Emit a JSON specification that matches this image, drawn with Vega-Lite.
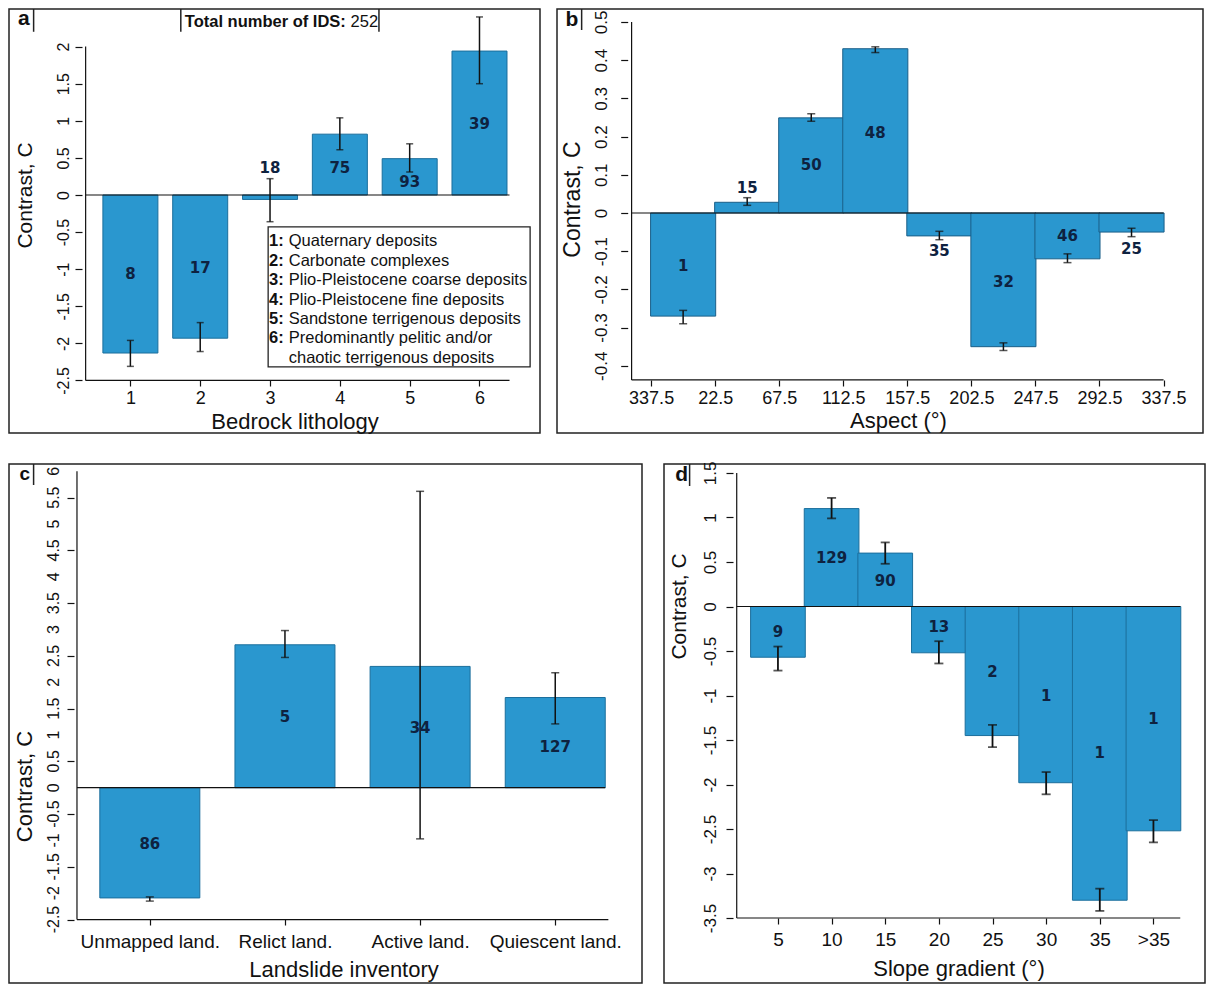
{
  "$schema": "https://vega.github.io/schema/vega-lite/v6.json",
  "background": "white",
  "padding": {"left": 8, "top": 7, "right": 0, "bottom": 0},
  "autosize": {"type": "pad"},
  "datasets": {
    "litho": [
      {"cls": 1, "c": -2.13, "lo": -2.31, "hi": -1.96, "n": 8, "ly": -1.07},
      {"cls": 2, "c": -1.93, "lo": -2.11, "hi": -1.72, "n": 17, "ly": -0.98},
      {"cls": 3, "c": -0.06, "lo": -0.36, "hi": 0.22, "n": 18, "ly": 0.36},
      {"cls": 4, "c": 0.82, "lo": 0.61, "hi": 1.04, "n": 75, "ly": 0.37},
      {"cls": 5, "c": 0.49, "lo": 0.31, "hi": 0.69, "n": 93, "ly": 0.17},
      {"cls": 6, "c": 1.94, "lo": 1.5, "hi": 2.4, "n": 39, "ly": 0.96}
    ],
    "aspect": [
      {"asp": 0, "c": -0.27, "lo": -0.29, "hi": -0.255, "n": 1, "ly": -0.14},
      {"asp": 45, "c": 0.028, "lo": 0.02, "hi": 0.04, "n": 15, "ly": 0.065},
      {"asp": 90, "c": 0.249, "lo": 0.24, "hi": 0.26, "n": 50, "ly": 0.125},
      {"asp": 135, "c": 0.43, "lo": 0.42, "hi": 0.435, "n": 48, "ly": 0.21},
      {"asp": 180, "c": -0.06, "lo": -0.07, "hi": -0.048, "n": 35, "ly": -0.1},
      {"asp": 225, "c": -0.35, "lo": -0.36, "hi": -0.34, "n": 32, "ly": -0.18},
      {"asp": 270, "c": -0.12, "lo": -0.13, "hi": -0.107, "n": 46, "ly": -0.06},
      {"asp": 315, "c": -0.05, "lo": -0.062, "hi": -0.04, "n": 25, "ly": -0.093}
    ],
    "inventory": [
      {"k": 1, "inv": "Unmapped land.", "c": -2.09, "lo": -2.15, "hi": -2.07, "n": 86, "ly": -1.06},
      {"k": 2, "inv": "Relict land.", "c": 2.71, "lo": 2.47, "hi": 2.98, "n": 5, "ly": 1.35},
      {"k": 3, "inv": "Active land.", "c": 2.3, "lo": -0.97, "hi": 5.62, "n": 34, "ly": 1.14},
      {"k": 4, "inv": "Quiescent land.", "c": 1.71, "lo": 1.21, "hi": 2.18, "n": 127, "ly": 0.78}
    ],
    "invTicks": [
      {"t": -2.5, "lab": "-2.5"}, {"t": -2, "lab": "-2"}, {"t": -1.5, "lab": "-1.5"}, {"t": -1, "lab": "-1"},
      {"t": -0.5, "lab": "-0.5"}, {"t": 0, "lab": "0"}, {"t": 0.5, "lab": "0.5"}, {"t": 1, "lab": "1"},
      {"t": 1.5, "lab": "1.5"}, {"t": 2, "lab": "2"}, {"t": 2.5, "lab": "2.5"}, {"t": 3, "lab": "3"},
      {"t": 3.5, "lab": "3.5"}, {"t": 4, "lab": "4"}, {"t": 4.5, "lab": "4.5"}, {"t": 5, "lab": "5"},
      {"t": 5.5, "lab": "5.5"}, {"t": 6, "lab": "6"}
    ],
    "slope": [
      {"s": 5, "c": -0.57, "lo": -0.72, "hi": -0.45, "n": 9, "ly": -0.29},
      {"s": 10, "c": 1.1, "lo": 0.99, "hi": 1.22, "n": 129, "ly": 0.54},
      {"s": 15, "c": 0.6, "lo": 0.48, "hi": 0.72, "n": 90, "ly": 0.29},
      {"s": 20, "c": -0.52, "lo": -0.64, "hi": -0.39, "n": 13, "ly": -0.23},
      {"s": 25, "c": -1.45, "lo": -1.58, "hi": -1.33, "n": 2, "ly": -0.74},
      {"s": 30, "c": -1.98, "lo": -2.11, "hi": -1.86, "n": 1, "ly": -1.0},
      {"s": 35, "c": -3.3, "lo": -3.42, "hi": -3.17, "n": 1, "ly": -1.65},
      {"s": 40, "c": -2.52, "lo": -2.65, "hi": -2.4, "n": 1, "ly": -1.26}
    ]
  },
  "spacing": 26,
  "vconcat": [
    {
      "spacing": 15,
      "hconcat": [
        {
          "width": 531, "height": 424,
          "data": {"name": "litho"},
          "layer": [
            {
              "mark": {"type": "bar", "width": 55, "fill": "#2a97cf", "stroke": "#1b6e9c", "strokeWidth": 1},
              "encoding": {
                "x": {"field": "cls", "type": "quantitative", "title": "Bedrock lithology",
                  "scale": {"domain": [-0.667, 6.795], "nice": false, "zero": false},
                  "axis": {"values": [1, 2, 3, 4, 5, 6], "labelExpr": "'' + datum.value",
                    "offset": -53, "labelFontSize": 18, "labelPadding": 3, "titleFontSize": 22, "titleX": 285.5, "titleY": 41}},
                "y": {"field": "c", "type": "quantitative", "title": "Contrast, C",
                  "scale": {"domain": [-3.208, 2.507], "nice": false, "zero": false},
                  "axis": {"values": [-2.5, -2, -1.5, -1, -0.5, 0, 0.5, 1, 1.5, 2], "labelExpr": "'' + datum.value",
                    "offset": -73, "labelFontSize": 16, "labelPadding": 4, "labelOverlap": false,
                    "titleFontSize": 21, "titleX": -57, "titleY": 186}},
                "y2": {"datum": 0}
              }
            },
            {
              "mark": {"type": "errorbar", "orient": "vertical", "color": "#111", "thickness": 1.5, "ticks": {"size": 7}},
              "encoding": {
                "x": {"field": "cls", "type": "quantitative", "title": "Bedrock lithology"},
                "y": {"field": "lo", "type": "quantitative", "title": "Contrast, C"},
                "y2": {"field": "hi"}
              }
            },
            {
              "mark": {"type": "text", "font": "DejaVu Sans", "fontWeight": "bold", "fontSize": 15, "color": "#0e2240"},
              "encoding": {
                "x": {"field": "cls", "type": "quantitative", "title": "Bedrock lithology"},
                "y": {"field": "ly", "type": "quantitative", "title": "Contrast, C"},
                "text": {"field": "n", "type": "nominal"}
              }
            },
            {
              "data": {"values": [{}]},
              "mark": {"type": "rule", "color": "#111", "strokeWidth": 1.2},
              "encoding": {"x": {"datum": 0.359}, "y": {"datum": -2.5}, "y2": {"datum": 2}}
            },
            {
              "data": {"values": [{}]},
              "mark": {"type": "rule", "color": "#111", "strokeWidth": 1.2},
              "encoding": {"x": {"datum": 0.359}, "x2": {"datum": 6.43}, "y": {"datum": -2.5}}
            },
            {
              "data": {"values": [{}]},
              "mark": {"type": "rule", "color": "#111", "strokeWidth": 1.2},
              "encoding": {"x": {"datum": 0.359}, "x2": {"datum": 6.43}, "y": {"datum": 0}}
            },
            {
              "data": {"values": [{}]},
              "mark": {"type": "rect", "fill": "white", "stroke": "#222", "strokeWidth": 1.3},
              "encoding": {"x": {"datum": 2.973}, "x2": {"datum": 6.725}, "y": {"datum": -0.431}, "y2": {"datum": -2.318}}
            },
            {
              "data": {"values": [{}]},
              "mark": {"type": "text", "align": "left", "baseline": "top", "font": "Liberation Sans", "fontWeight": "bold", "fontSize": 16.5, "lineHeight": 19.4, "lineBreak": "\n", "color": "#111"},
              "encoding": {"x": {"datum": 2.987}, "y": {"datum": -0.5175},
                "text": {"value": "1:\n2:\n3:\n4:\n5:\n6:"}}
            },
            {
              "data": {"values": [{}]},
              "mark": {"type": "text", "align": "left", "baseline": "top", "font": "Liberation Sans", "fontSize": 16.5, "lineHeight": 19.4, "lineBreak": "\n", "color": "#111"},
              "encoding": {"x": {"datum": 3.268}, "y": {"datum": -0.5175},
                "text": {"value": "Quaternary deposits\nCarbonate complexes\nPlio-Pleistocene coarse deposits\nPlio-Pleistocene fine deposits\nSandstone terrigenous deposits\nPredominantly pelitic and/or\nchaotic terrigenous deposits"}}
            },
            {
              "data": {"values": [{}]},
              "mark": {"type": "text", "align": "left", "baseline": "middle", "font": "Liberation Sans", "fontWeight": "bold", "fontSize": 16.5, "color": "#111"},
              "encoding": {"x": {"datum": 1.779}, "y": {"datum": 2.33}, "text": {"value": "Total number of IDS:"}}
            },
            {
              "data": {"values": [{}]},
              "mark": {"type": "text", "align": "left", "baseline": "middle", "font": "Liberation Sans", "fontSize": 16.5, "color": "#111"},
              "encoding": {"x": {"datum": 4.153}, "y": {"datum": 2.33}, "text": {"value": "252"}}
            },
            {
              "data": {"values": [{"xb": 1.722}, {"xb": 4.56}, {"xb": -0.386}]},
              "mark": {"type": "rule", "color": "#222", "strokeWidth": 1.5},
              "encoding": {"x": {"field": "xb", "type": "quantitative", "title": "Bedrock lithology"}, "y": {"datum": 2.507}, "y2": {"datum": 2.2}}
            },
            {
              "data": {"values": [{}]},
              "mark": {"type": "text", "align": "center", "baseline": "middle", "font": "Liberation Sans", "fontWeight": "bold", "fontSize": 21, "color": "#111"},
              "encoding": {"x": {"datum": -0.526}, "y": {"datum": 2.37}, "text": {"value": "a"}}
            }
          ]
        },
        {
          "width": 646, "height": 424,
          "data": {"name": "aspect"},
          "layer": [
            {
              "mark": {"type": "bar", "width": 65.1, "fill": "#2a97cf", "stroke": "#1b5f88", "strokeWidth": 1},
              "encoding": {
                "x": {"field": "asp", "type": "quantitative", "title": "Aspect (°)",
                  "scale": {"domain": [-85.1, 361.7], "nice": false, "zero": false},
                  "axis": {"values": [-22.5, 22.5, 67.5, 112.5, 157.5, 202.5, 247.5, 292.5, 337.5],
                    "labelExpr": "datum.value < 0 ? '337.5' : '' + datum.value",
                    "offset": -53, "labelFontSize": 18, "labelPadding": 3, "titleFontSize": 22, "titleX": 341, "titleY": 40}},
                "y": {"field": "c", "type": "quantitative", "title": "Contrast, C",
                  "scale": {"domain": [-0.576, 0.534], "nice": false, "zero": false},
                  "axis": {"values": [-0.4, -0.3, -0.2, -0.1, 0, 0.1, 0.2, 0.3, 0.4, 0.5], "labelExpr": "'' + datum.value",
                    "offset": -70.7, "labelFontSize": 17, "labelPadding": 10, "labelOverlap": false,
                    "titleFontSize": 23, "titleX": -55, "titleY": 190}},
                "y2": {"datum": 0}
              }
            },
            {
              "mark": {"type": "errorbar", "orient": "vertical", "color": "#111", "thickness": 1.5, "ticks": {"size": 8}},
              "encoding": {
                "x": {"field": "asp", "type": "quantitative", "title": "Aspect (°)"},
                "y": {"field": "lo", "type": "quantitative", "title": "Contrast, C"},
                "y2": {"field": "hi"}
              }
            },
            {
              "mark": {"type": "text", "font": "DejaVu Sans", "fontWeight": "bold", "fontSize": 15, "color": "#0e2240"},
              "encoding": {
                "x": {"field": "asp", "type": "quantitative", "title": "Aspect (°)"},
                "y": {"field": "ly", "type": "quantitative", "title": "Contrast, C"},
                "text": {"field": "n", "type": "nominal"}
              }
            },
            {
              "data": {"values": [{}]},
              "mark": {"type": "rule", "color": "#111", "strokeWidth": 1.2},
              "encoding": {"x": {"datum": -36.2}, "y": {"datum": -0.437}, "y2": {"datum": 0.5}}
            },
            {
              "data": {"values": [{}]},
              "mark": {"type": "rule", "color": "#111", "strokeWidth": 1.2},
              "encoding": {"x": {"datum": -36.2}, "x2": {"datum": 337.5}, "y": {"datum": -0.437}}
            },
            {
              "data": {"values": [{}]},
              "mark": {"type": "rule", "color": "#111", "strokeWidth": 1.2},
              "encoding": {"x": {"datum": -36.2}, "x2": {"datum": 337.5}, "y": {"datum": 0}}
            },
            {
              "data": {"values": [{}]},
              "mark": {"type": "rule", "color": "#222", "strokeWidth": 1.5},
              "encoding": {"x": {"datum": -71.3}, "y": {"datum": 0.534}, "y2": {"datum": 0.479}}
            },
            {
              "data": {"values": [{}]},
              "mark": {"type": "text", "align": "center", "baseline": "middle", "font": "Liberation Sans", "fontWeight": "bold", "fontSize": 21, "color": "#111"},
              "encoding": {"x": {"datum": -78.2}, "y": {"datum": 0.506}, "text": {"value": "b"}}
            }
          ]
        }
      ]
    },
    {
      "spacing": 20,
      "hconcat": [
        {
          "width": 633, "height": 519,
          "data": {"name": "inventory"},
          "layer": [
            {
              "mark": {"type": "bar", "width": 100, "fill": "#2a97cf", "stroke": "#1b6e9c", "strokeWidth": 1},
              "encoding": {
                "x": {"field": "k", "type": "quantitative", "title": "Landslide inventory",
                  "scale": {"domain": [-0.005, 4.605], "nice": false, "zero": false},
                  "axis": {"values": [1, 2, 3, 4],
                    "labelExpr": "['Unmapped land.', 'Relict land.', 'Active land.', 'Quiescent land.'][datum.value - 1]",
                    "offset": -64, "labelFontSize": 19, "labelPadding": 7,
                    "titleFontSize": 22, "titleX": 334.5, "titleY": 50}},
                "y": {"field": "c", "type": "quantitative", "title": "Contrast, C",
                  "scale": {"domain": [-3.703, 6.138], "nice": false, "zero": false},
                  "axis": {"values": [-2.5, -2, -1.5, -1, -0.5, 0, 0.5, 1, 1.5, 2, 2.5, 3, 3.5, 4, 4.5, 5, 5.5, 6],
                    "labels": false, "offset": -65, "titleFontSize": 22, "titleX": -50, "titleY": 322}},
                "y2": {"datum": 0}
              }
            },
            {
              "data": {"name": "invTicks"},
              "mark": {"type": "text", "angle": 270, "align": "center", "baseline": "bottom", "font": "Liberation Sans", "fontSize": 16, "color": "#111"},
              "encoding": {
                "x": {"datum": 0.352},
                "y": {"field": "t", "type": "quantitative", "title": "Contrast, C"},
                "text": {"field": "lab", "type": "nominal"}
              }
            },
            {
              "mark": {"type": "errorbar", "orient": "vertical", "color": "#111", "thickness": 1.5, "ticks": {"size": 8}},
              "encoding": {
                "x": {"field": "k", "type": "quantitative", "title": "Landslide inventory"},
                "y": {"field": "lo", "type": "quantitative", "title": "Contrast, C"},
                "y2": {"field": "hi"}
              }
            },
            {
              "mark": {"type": "text", "font": "DejaVu Sans", "fontWeight": "bold", "fontSize": 15, "color": "#0e2240"},
              "encoding": {
                "x": {"field": "k", "type": "quantitative", "title": "Landslide inventory"},
                "y": {"field": "ly", "type": "quantitative", "title": "Contrast, C"},
                "text": {"field": "n", "type": "nominal"}
              }
            },
            {
              "data": {"values": [{}]},
              "mark": {"type": "rule", "color": "#111", "strokeWidth": 1.2},
              "encoding": {"x": {"datum": 0.461}, "y": {"datum": -2.5}, "y2": {"datum": 6}}
            },
            {
              "data": {"values": [{}]},
              "mark": {"type": "rule", "color": "#111", "strokeWidth": 1.2},
              "encoding": {"x": {"datum": 0.461}, "x2": {"datum": 4.393}, "y": {"datum": -2.5}}
            },
            {
              "data": {"values": [{}]},
              "mark": {"type": "rule", "color": "#111", "strokeWidth": 1.2},
              "encoding": {"x": {"datum": 0.461}, "x2": {"datum": 4.37}, "y": {"datum": 0}}
            },
            {
              "data": {"values": [{}]},
              "mark": {"type": "rule", "color": "#222", "strokeWidth": 1.5},
              "encoding": {"x": {"datum": 0.14}, "y": {"datum": 6.138}, "y2": {"datum": 5.74}}
            },
            {
              "data": {"values": [{}]},
              "mark": {"type": "text", "align": "center", "baseline": "middle", "font": "Liberation Sans", "fontWeight": "bold", "fontSize": 19, "color": "#111"},
              "encoding": {"x": {"datum": 0.075}, "y": {"datum": 5.95}, "text": {"value": "c"}}
            }
          ]
        },
        {
          "width": 541, "height": 519,
          "data": {"name": "slope"},
          "layer": [
            {
              "mark": {"type": "bar", "width": 54.7, "fill": "#2a97cf", "stroke": "#1b6e9c", "strokeWidth": 1},
              "encoding": {
                "x": {"field": "s", "type": "quantitative", "title": "Slope gradient (°)",
                  "scale": {"domain": [-5.155, 44.34], "nice": false, "zero": false},
                  "axis": {"values": [5, 10, 15, 20, 25, 30, 35, 40],
                    "labelExpr": "datum.value == 40 ? '>35' : '' + datum.value",
                    "offset": -65, "labelFontSize": 19, "labelPadding": 6, "titleFontSize": 22, "titleX": 294.5, "titleY": 50}},
                "y": {"field": "c", "type": "quantitative", "title": "Contrast, C",
                  "scale": {"domain": [-4.23, 1.601], "nice": false, "zero": false},
                  "axis": {"values": [-3.5, -3, -2.5, -2, -1.5, -1, -0.5, 0, 0.5, 1, 1.5], "labelExpr": "'' + datum.value",
                    "offset": -69, "labelFontSize": 17, "labelPadding": 7, "labelOverlap": false,
                    "titleFontSize": 21, "titleX": -54, "titleY": 142}},
                "y2": {"datum": 0}
              }
            },
            {
              "mark": {"type": "errorbar", "orient": "vertical", "color": "#111", "thickness": 1.8, "ticks": {"size": 9}},
              "encoding": {
                "x": {"field": "s", "type": "quantitative", "title": "Slope gradient (°)"},
                "y": {"field": "lo", "type": "quantitative", "title": "Contrast, C"},
                "y2": {"field": "hi"}
              }
            },
            {
              "mark": {"type": "text", "font": "DejaVu Sans", "fontWeight": "bold", "fontSize": 15, "color": "#0e2240"},
              "encoding": {
                "x": {"field": "s", "type": "quantitative", "title": "Slope gradient (°)"},
                "y": {"field": "ly", "type": "quantitative", "title": "Contrast, C"},
                "text": {"field": "n", "type": "nominal"}
              }
            },
            {
              "data": {"values": [{}]},
              "mark": {"type": "rule", "color": "#111", "strokeWidth": 1.2},
              "encoding": {"x": {"datum": 1.157}, "y": {"datum": -3.5}, "y2": {"datum": 1.5}}
            },
            {
              "data": {"values": [{}]},
              "mark": {"type": "rule", "color": "#111", "strokeWidth": 1.2},
              "encoding": {"x": {"datum": 1.157}, "x2": {"datum": 42.5}, "y": {"datum": -3.5}}
            },
            {
              "data": {"values": [{}]},
              "mark": {"type": "rule", "color": "#111", "strokeWidth": 1.2},
              "encoding": {"x": {"datum": 1.157}, "x2": {"datum": 42.5}, "y": {"datum": 0}}
            },
            {
              "data": {"values": [{}]},
              "mark": {"type": "rule", "color": "#222", "strokeWidth": 1.5},
              "encoding": {"x": {"datum": -3.234}, "y": {"datum": 1.601}, "y2": {"datum": 1.354}}
            },
            {
              "data": {"values": [{}]},
              "mark": {"type": "text", "align": "center", "baseline": "middle", "font": "Liberation Sans", "fontWeight": "bold", "fontSize": 21, "color": "#111"},
              "encoding": {"x": {"datum": -3.966}, "y": {"datum": 1.478}, "text": {"value": "d"}}
            }
          ]
        }
      ]
    }
  ],
  "config": {
    "view": {"stroke": "#222", "strokeWidth": 1.5},
    "axis": {
      "domain": false, "grid": false, "tickColor": "#111", "tickWidth": 1.2, "tickSize": 7,
      "labelColor": "#111", "titleColor": "#111", "labelFont": "Liberation Sans", "titleFont": "Liberation Sans",
      "titleFontWeight": "normal", "labelOverlap": false, "labelBound": false, "labelFlush": false
    },
    "axisY": {"labelAngle": -90, "labelAlign": "center", "labelBaseline": "bottom", "titleAngle": -90, "titleAlign": "center", "titleBaseline": "middle"},
    "axisX": {"tickSize": 6, "titleAlign": "center", "titleBaseline": "middle"}
  }
}
